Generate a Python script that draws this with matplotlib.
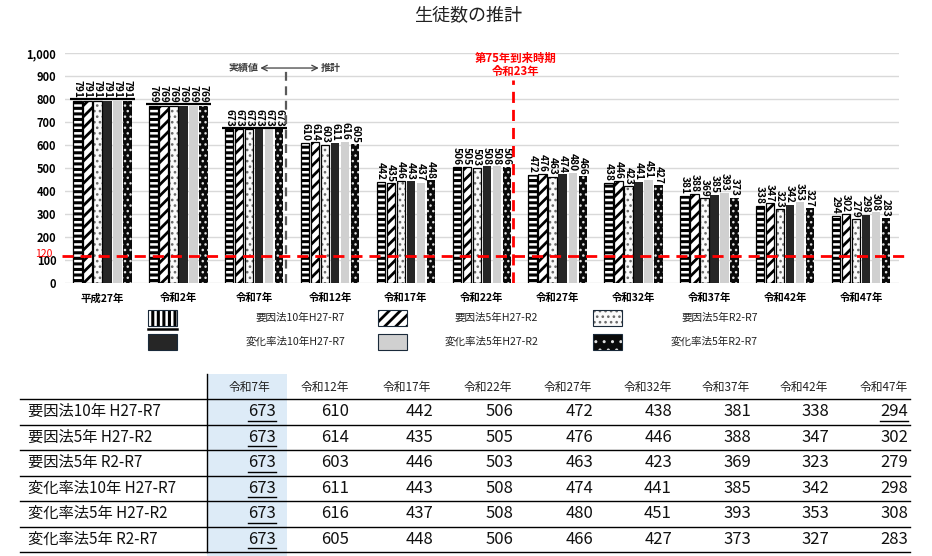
import numpy as np
import matplotlib
matplotlib.use("Agg")
import matplotlib.pyplot as plt
import matplotlib.transforms as mtransforms
from matplotlib.patches import Rectangle
from matplotlib.lines import Line2D

plt.rcParams['font.family'] = ['Noto Sans CJK JP', 'DejaVu Sans']

categories = ['平成27年', '令和2年', '令和7年', '令和12年', '令和17年', '令和22年',
              '令和27年', '令和32年', '令和37年', '令和42年', '令和47年']
series_names = ['要因法10年H27-R7', '要因法5年H27-R2', '要因法5年R2-R7',
                '変化率法10年H27-R7', '変化率法5年H27-R2', '変化率法5年R2-R7']
table_rows = ['要因法10年 H27-R7', '要因法5年 H27-R2', '要因法5年 R2-R7',
              '変化率法10年 H27-R7', '変化率法5年 H27-R2', '変化率法5年 R2-R7']

youin10_h27_r7 = [791, 769, 673, 610, 442, 506, 472, 438, 381, 338, 294]
youin5_h27_r2 = [791, 769, 673, 614, 435, 505, 476, 446, 388, 347, 302]
youin5_r2_r7 = [791, 769, 673, 603, 446, 503, 463, 423, 369, 323, 279]
henka10_h27_r7 = [791, 769, 673, 611, 443, 508, 474, 441, 385, 342, 298]
henka5_h27_r2 = [791, 769, 673, 616, 437, 508, 480, 451, 393, 353, 308]
henka5_r2_r7 = [791, 769, 673, 605, 448, 506, 466, 427, 373, 327, 283]
series = [youin10_h27_r7, youin5_h27_r2, youin5_r2_r7,
          henka10_h27_r7, henka5_h27_r2, henka5_r2_r7]

threshold = 120
n_actual = 3          # 平成27年〜令和7年 are actual values
table_start = 2       # table starts at 令和7年

W, H = 932, 556


def fx(px):
    return px / W


def fy(py):
    return 1 - py / H


# bar looks: face, hatch colour (edge), hatch, hatch width, outline
styles = [
    dict(face='white', hcol='black', hatch='---', hlw=2.2, outline='black'),
    dict(face='white', hcol='black', hatch='///', hlw=2.0, outline='black'),
    dict(face='#fafafa', hcol='#6a6a6a', hatch='...', hlw=1.1, outline='black'),
    dict(face='#262626', hcol='#262626', hatch=None, hlw=1.0, outline=None),
    dict(face='#d0d0d0', hcol='#d0d0d0', hatch=None, hlw=1.0, outline=None),
    dict(face='#0a0a0a', hcol='#e0e0e0', hatch='...', hlw=1.0, outline=None),
]


def styled_bar(ax, x, h, width, st):
    plt.rcParams['hatch.linewidth'] = st['hlw']
    bars = ax.bar(x, h, width, color=st['face'], edgecolor=st['hcol'],
                  hatch=st['hatch'], linewidth=0, zorder=3)
    for b in bars:
        if hasattr(b, 'set_hatch_linewidth'):
            b.set_hatch_linewidth(st['hlw'])
    if st['outline']:
        ax.bar(x, h, width, fill=False, edgecolor=st['outline'],
               linewidth=0.9, zorder=4)
    return bars


fig = plt.figure(figsize=(W / 100, H / 100), dpi=100)
ax = fig.add_axes([fx(64.6), fy(283.3), fx(899) - fx(64.6), fy(53.3) - fy(283.3)])

fig.text(0.502, fy(15), '生徒数の推計', ha='center', va='center', fontsize=13,
         color='#222222')

x = np.arange(len(categories))
pitch, width = 0.132, 0.11
for i, (vals, st) in enumerate(zip(series, styles)):
    pos = x + (i - 2.5) * pitch
    styled_bar(ax, pos, vals, width, st)
    for j, (p, v) in enumerate(zip(pos, vals)):
        if j < n_actual:
            continue
        ax.text(p, v + 7, str(v), rotation=270, ha='center', va='bottom',
                fontsize=7.3, fontweight='bold', zorder=5)

# brackets over the actual-value groups, labels sit on top of them
for j in range(n_actual):
    top = max(s[j] for s in series)
    line_y = top + (12 if j < 2 else 4)
    ax.plot([x[j] - 0.43, x[j] + 0.43], [line_y, line_y], color='black',
            lw=1.6, zorder=5, solid_capstyle='butt')
    for i, s in enumerate(series):
        ax.text(x[j] + (i - 2.5) * pitch, line_y + 3, str(s[j]), rotation=270,
                ha='center', va='bottom', fontsize=7.3, fontweight='bold', zorder=5)

ax.set_xlim(-0.5, len(categories) - 0.5)
ax.set_ylim(0, 1000)
ax.set_yticks(np.arange(0, 1001, 100))
ax.set_yticklabels([f'{v:,}' for v in range(0, 1001, 100)], fontsize=8,
                   fontweight='bold')
ax.set_xticks(x)
ax.set_xticklabels(categories, fontsize=7.5, fontweight='bold')
ax.tick_params(length=0, pad=6)
ax.tick_params(axis='x', pad=7)
ax.yaxis.grid(True, color='#d9d9d9', lw=1, zorder=0)
ax.set_axisbelow(True)
for sp in ax.spines.values():
    sp.set_visible(False)

# threshold line
trans = mtransforms.blended_transform_factory(ax.transAxes, ax.transData)
ax.plot([-0.003, 1.007], [threshold, threshold], transform=trans, color='#ff0000',
        lw=2, dashes=(4, 2.5), clip_on=False, zorder=6)
ax.text(-0.014, threshold + 8, str(threshold), transform=trans, ha='right',
        va='center', color='#ff0000', fontsize=7.5)

# actual / projection boundary
split_x = 2.42
ax.plot([split_x, split_x], [0, 925], color='#5a5a5a', lw=1.6, dashes=(4, 2.5),
        zorder=6)
ax.text(2.06, 936, '実績値', ha='right', va='center', fontsize=7.2,
        fontweight='bold', color='#404040')
ax.text(2.88, 936, '推計', ha='left', va='center', fontsize=7.2,
        fontweight='bold', color='#404040')
ax.annotate('', xy=(2.08, 936), xytext=(2.85, 936),
            arrowprops=dict(arrowstyle='<->', color='#404040', lw=0.9,
                            shrinkA=0, shrinkB=0))

peak_x = 5.41
ax.plot([peak_x, peak_x], [0, 882], color='#ff0000', lw=2, dashes=(4, 2.5),
        zorder=6)
ax.text(5.44, 893, '第75年到来時期\n令和23年', ha='center', va='bottom',
        fontsize=8.2, fontweight='bold', color='#ff0000', linespacing=1.0)

# legend: top row 要因法, bottom row 変化率法
leg_cols = [(148, 345), (378, 538), (593, 758)]
leg_rows = [318, 342]
for k, (name, st) in enumerate(zip(series_names, styles)):
    r, c = k // 3, k % 3
    px0, tx = leg_cols[c]
    py = leg_rows[r]
    plt.rcParams['hatch.linewidth'] = st['hlw']
    rect = Rectangle((fx(px0), fy(py + 8)), fx(29), 16 / H, transform=fig.transFigure,
                     facecolor=st['face'], edgecolor=st['hcol'],
                     hatch=('|||' if st['hatch'] == '---' else
                            ('..' if k == 5 else st['hatch'])),
                     linewidth=0)
    fig.patches.append(rect)
    fig.patches.append(Rectangle((fx(px0), fy(py + 8)), fx(29), 16 / H,
                                 transform=fig.transFigure, fill=False,
                                 edgecolor='#1a2a3a', linewidth=0.8))
    fig.text(fx(tx), fy(py), name, ha='right', va='center', fontsize=7.6,
             color='#222222')
fig.lines.append(Line2D([fx(148), fx(177)], [fy(329), fy(329)],
                        transform=fig.transFigure, color='black', lw=1.8))

# table
col_right = [276, 349, 433, 513, 593, 672, 751, 829, 908]
head_right = [270, 349, 431, 512, 592, 672, 750, 828, 908]
row_lines = [399, 424.5, 450, 475.5, 501, 526.5, 552]
fig.patches.append(Rectangle((fx(207), fy(556)), fx(80), 182 / H,
                             transform=fig.transFigure, facecolor='#ddebf7',
                             edgecolor='none', zorder=0))
fig.lines.append(Line2D([fx(207), fx(207)], [fy(374), fy(552)],
                        transform=fig.transFigure, color='black', lw=1))
for yl in row_lines:
    fig.lines.append(Line2D([fx(20), fx(910)], [fy(yl), fy(yl)],
                            transform=fig.transFigure, color='black', lw=1))

for c, cat in enumerate(categories[table_start:]):
    fig.text(fx(head_right[c]), fy(388), cat, ha='right', va='center',
             fontsize=8.5, color='#222222')

underlined = []
for r, (label, vals) in enumerate(zip(table_rows, series)):
    cy = (row_lines[r] + row_lines[r + 1]) / 2
    fig.text(fx(28), fy(cy), label, ha='left', va='center', fontsize=11,
             color='#111111')
    for c, v in enumerate(vals[table_start:]):
        t = fig.text(fx(col_right[c]), fy(cy), str(v), ha='right', va='center',
                     fontsize=12, color='#111111')
        if c == 0 or (r == 0 and c == len(col_right) - 1):
            underlined.append((t, cy))

fig.canvas.draw()
for t, cy in underlined:
    bb = t.get_window_extent()
    fig.lines.append(Line2D([fx(bb.x0), fx(bb.x1)], [fy(cy + 9), fy(cy + 9)],
                            transform=fig.transFigure, color='black', lw=1))

fig.savefig('out.png', dpi=100)
